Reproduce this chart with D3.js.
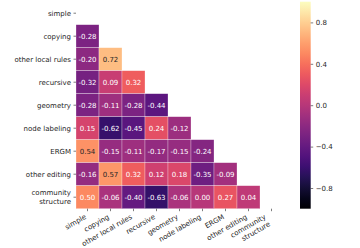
<!DOCTYPE html>
<html>
<head>
<meta charset="utf-8">
<script src="https://cdn.jsdelivr.net/npm/d3@7"></script>
<style>
  body { margin: 0; background: #fff; }
  text { font-family: "DejaVu Sans", sans-serif; }
</style>
</head>
<body>
<svg id="chart" width="360" height="248"></svg>
<script>
// labels (rows and columns are the same list)
const labels = ["simple", "copying", "other local rules", "recursive", "geometry",
  "node labeling", "ERGM", "other editing", "community\nstructure"];

// lower triangle of the correlation matrix, row by row
const corrRows = [
  [],
  [-0.28],
  [-0.20, 0.72],
  [-0.32, 0.09, 0.32],
  [-0.28, -0.11, -0.28, -0.44],
  [0.15, -0.62, -0.45, 0.24, -0.12],
  [0.54, -0.15, -0.11, -0.17, -0.15, -0.24],
  [-0.16, 0.57, 0.32, 0.12, 0.18, -0.35, -0.09],
  [0.50, -0.06, -0.40, -0.63, -0.06, 0.00, 0.27, 0.04]
];

const cbarTicks = [0.8, 0.4, 0.0, -0.4, -0.8];

const svg = d3.select("#chart");
const fs = 7;
const textColor = "#262626";
const tickLen = 2.5, tickPad = 2.5, tickW = 0.6;

// heatmap area
const hmLeft = 76, hmTop = 1.7, size = 207;
const x = d3.scaleBand().domain(d3.range(labels.length)).range([hmLeft, hmLeft + size]);
const y = d3.scaleBand().domain(d3.range(labels.length)).range([hmTop, hmTop + size]);
const color = d3.scaleSequential(d3.interpolateMagma).domain([-1, 1]);

const cells = [];
corrRows.forEach((row, i) => row.forEach((v, j) => cells.push({ i, j, v })));

// luminance test like seaborn uses for annotation colour
function lum(c) {
  const rgb = d3.rgb(c);
  const f = u => { u /= 255; return u <= 0.03928 ? u / 12.92 : Math.pow((u + 0.055) / 1.055, 2.4); };
  return 0.2126 * f(rgb.r) + 0.7152 * f(rgb.g) + 0.0722 * f(rgb.b);
}

svg.append("g")
  .selectAll("rect")
  .data(cells)
  .join("rect")
    .attr("x", d => x(d.j))
    .attr("y", d => y(d.i))
    .attr("width", x.bandwidth())
    .attr("height", y.bandwidth())
    .attr("fill", d => color(d.v))
    .attr("stroke", "rgba(255,255,255,0.55)")
    .attr("stroke-width", 0.5);

svg.append("g")
  .selectAll("text")
  .data(cells)
  .join("text")
    .attr("x", d => x(d.j) + x.bandwidth() / 2)
    .attr("y", d => y(d.i) + y.bandwidth() / 2)
    .attr("dy", "0.35em")
    .attr("text-anchor", "middle")
    .attr("font-size", fs)
    .attr("fill", d => lum(color(d.v)) > 0.408 ? textColor : "#fff")
    .text(d => d.v.toFixed(2));

// y axis
const yAx = svg.append("g");
labels.forEach((lab, i) => {
  const cy = y(i) + y.bandwidth() / 2;
  yAx.append("line")
    .attr("x1", hmLeft - tickLen).attr("x2", hmLeft)
    .attr("y1", cy).attr("y2", cy)
    .attr("stroke", textColor).attr("stroke-width", tickW);
  const lines = lab.split("\n");
  const t = yAx.append("text")
    .attr("text-anchor", "end")
    .attr("font-size", fs)
    .attr("fill", textColor);
  const lh = fs * 1.2;
  lines.forEach((ln, k) => {
    t.append("tspan")
      .attr("x", hmLeft - tickLen - tickPad)
      .attr("y", cy + (k - (lines.length - 1) / 2) * lh)
      .attr("dy", "0.35em")
      .text(ln);
  });
});

// x axis, rotated labels (right edge of the rotated box on the tick)
const xAx = svg.append("g");
const hmBottom = hmTop + size;
const rot = 30, rad = rot * Math.PI / 180;
labels.forEach((lab, j) => {
  const cx = x(j) + x.bandwidth() / 2;
  xAx.append("line")
    .attr("x1", cx).attr("x2", cx)
    .attr("y1", hmBottom).attr("y2", hmBottom + tickLen)
    .attr("stroke", textColor).attr("stroke-width", tickW);
  const lines = lab.split("\n");
  const lh = fs * 1.2;
  const asc = fs * 0.74, desc = fs * 0.24 + (lines.length - 1) * lh;
  const ox = cx - desc * Math.sin(rad);
  const oy = hmBottom + tickLen + tickPad + asc * Math.cos(rad);
  const t = xAx.append("text")
    .attr("transform", `translate(${ox},${oy}) rotate(${-rot})`)
    .attr("text-anchor", "end")
    .attr("font-size", fs)
    .attr("fill", textColor);
  lines.forEach((ln, k) => {
    t.append("tspan").attr("x", 0).attr("y", k * lh).text(ln);
  });
});

// colorbar
const cbX = 300, cbW = 10.7;
const cbY = d3.scaleLinear().domain([-1, 1]).range([hmTop + size, hmTop]);
const defs = svg.append("defs");
const grad = defs.append("linearGradient")
  .attr("id", "cbar").attr("x1", 0).attr("x2", 0).attr("y1", 1).attr("y2", 0);
d3.range(0, 1.0001, 0.05).forEach(s => {
  grad.append("stop").attr("offset", s).attr("stop-color", d3.interpolateMagma(s));
});
svg.append("rect")
  .attr("x", cbX).attr("y", hmTop)
  .attr("width", cbW).attr("height", size)
  .attr("fill", "url(#cbar)");

const cbAxis = d3.axisRight(cbY)
  .tickValues(cbarTicks)
  .tickSize(tickLen)
  .tickPadding(tickPad)
  .tickFormat(d => d3.format(".1f")(d).replace("-", "\u2212"));
const cbG = svg.append("g")
  .attr("transform", `translate(${cbX + cbW},0)`)
  .call(cbAxis);
cbG.select(".domain").remove();
cbG.selectAll("line").attr("stroke", textColor).attr("stroke-width", tickW);
cbG.selectAll("text")
  .attr("font-size", fs)
  .attr("font-family", "DejaVu Sans, sans-serif")
  .attr("fill", textColor);
</script>
</body>
</html>
